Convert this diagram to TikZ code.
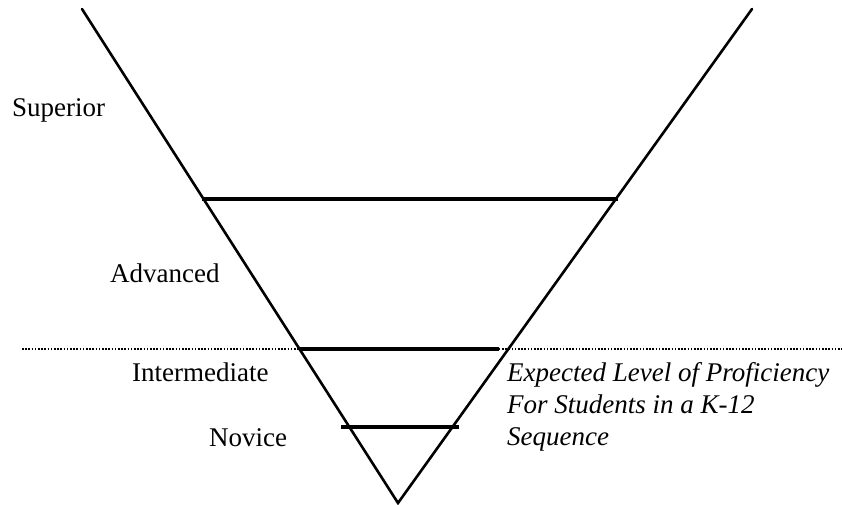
\documentclass[tikz,border=0pt]{standalone}
\usepackage{fontspec}
\setmainfont{Liberation Serif}
\begin{document}
\begin{tikzpicture}[x=1pt,y=-1pt,
  funnel/.style={line width=2.6pt,line cap=round},
  band/.style={line width=3.4pt},
  dotline/.style={line width=1.8pt,dash pattern=on 1.6pt off 1.6pt},
  lbl/.style={anchor=base west,inner sep=0pt,font=\fontsize{27}{32}\selectfont},
  note/.style={anchor=base west,inner sep=0pt,align=left,font=\fontsize{27}{32}\selectfont\itshape}]
\useasboundingbox (0,0) rectangle (842,504);
% funnel
\coordinate (tl) at (82,9);
\coordinate (tr) at (752,9);
\coordinate (apex) at (398,503);
\draw[funnel] (tl) -- (apex) -- (tr);
% level bands
\coordinate (b1l) at (202,199);
\coordinate (b1r) at (618,199);
\coordinate (b2l) at (299,349);
\coordinate (b2r) at (499,349);
\coordinate (b3l) at (341,427);
\coordinate (b3r) at (459,427);
\coordinate (dl) at (22,349);
\coordinate (dr) at (842,349);
\draw[dotline] (dl) -- (dr);
\draw[band] (b1l) -- (b1r);
\draw[band] (b2l) -- (b2r);
\draw[band] (b3l) -- (b3r);
% labels
\node[lbl] (sup) at (12,116) {Superior};
\node[lbl] (adv) at (110,282) {Advanced};
\node[lbl] (int) at (132,381) {Intermediate};
\node[lbl] (nov) at (209,446) {Novice};
\node[note] (exp) at (507,445) {Expected Level of Proficiency\\For Students in a K-12\\Sequence};
\end{tikzpicture}
\end{document}
